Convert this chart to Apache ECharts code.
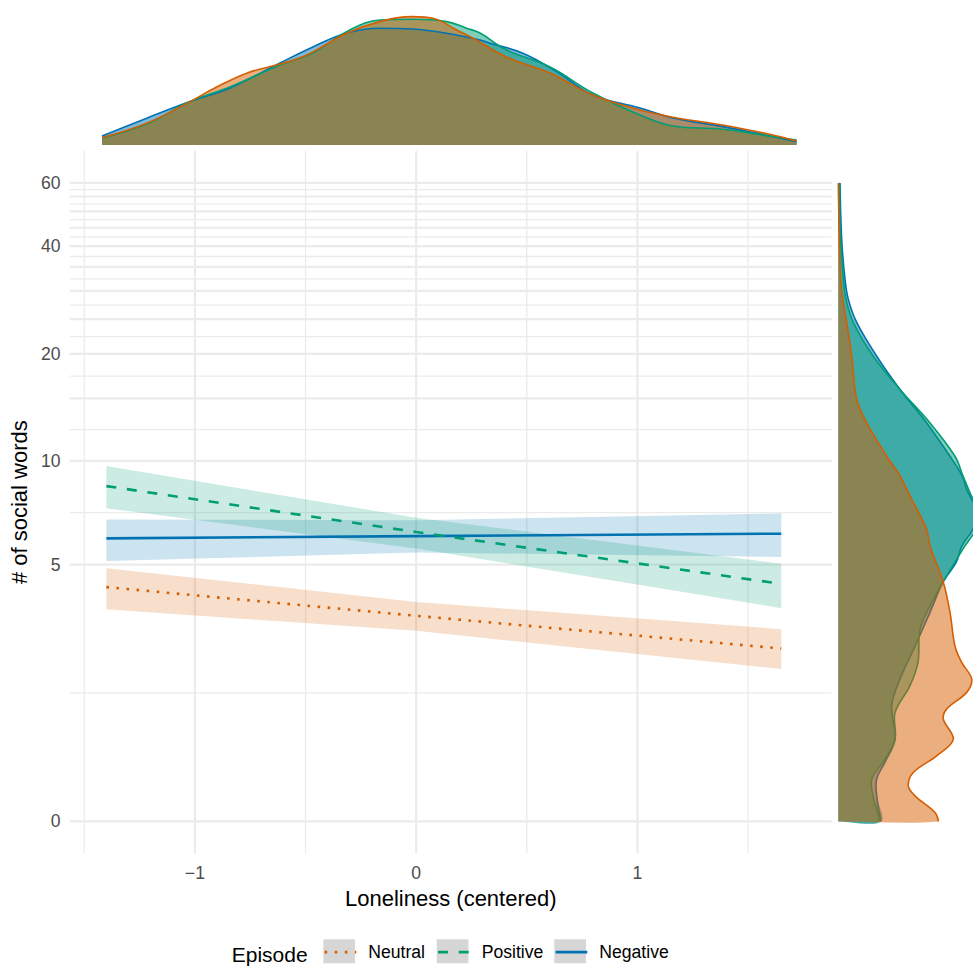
<!DOCTYPE html>
<html><head><meta charset="utf-8">
<script src="https://cdn.jsdelivr.net/npm/echarts@6/dist/echarts.min.js"></script>
<style>html,body{margin:0;padding:0;background:#fff}#c{width:973px;height:966px}</style>
</head><body><div id="c"></div>
<script>
// ---------- data (original units) ----------
const xFit = [-1.4, 0, 1.65];
const negFit = [5.98, 6.07, 6.17];
const negLo  = [5.12, 5.43, 5.27];
const negHi  = [6.79, 6.75, 7.07];
const posFit = [8.47, 6.24, 4.37];
const posLo  = [7.31, 5.58, 3.67];
const posHi  = [9.66, 6.87, 5.03];
const neuFit = [4.27, 3.47, 2.70];
const neuLo  = [3.64, 3.10, 2.28];
const neuHi  = [4.87, 3.84, 3.14];

// top marginal densities of loneliness
const topNegX = [-1.406,-1.205,-1.010,-0.830,-0.605,-0.457,-0.305,-0.155,-0.007,0.145,0.295,0.340,0.488,0.640,0.803,1.015,1.163,1.388,1.613,1.720];
const topNegD = [0.045,0.134,0.217,0.285,0.41,0.49,0.56,0.584,0.58,0.559,0.525,0.509,0.459,0.367,0.25,0.185,0.135,0.092,0.042,0.017];
const topPosX = [-1.406,-1.205,-1.010,-0.830,-0.605,-0.457,-0.305,-0.155,-0.007,0.145,0.235,0.295,0.415,0.610,0.803,1.015,1.163,1.388,1.613,1.720];
const topPosD = [0.035,0.105,0.217,0.29,0.40,0.46,0.567,0.625,0.629,0.617,0.584,0.56,0.475,0.39,0.26,0.15,0.095,0.079,0.042,0.025];
const topNeuX = [-1.406,-1.205,-1.010,-0.907,-0.755,-0.605,-0.485,-0.305,-0.155,-0.007,0.083,0.190,0.263,0.415,0.610,0.803,1.015,1.163,1.388,1.613,1.720];
const topNeuD = [0.037,0.109,0.217,0.28,0.359,0.405,0.45,0.559,0.617,0.642,0.634,0.575,0.534,0.44,0.36,0.25,0.175,0.139,0.10,0.05,0.02];

// right marginal densities of # social words
const rightNegY = [60,41.7,32.3,28.4,24.5,19.7,15.9,12.8,10.3,9.05,8.29,7.76,7.12,6.35,5.68,5.08,4.42,3.56,2.75,2.09,1.62,1.10,0.778,0.549,0.329,0];
const rightNegD = [0.0085,0.017,0.0335,0.05,0.092,0.192,0.3085,0.442,0.5585,0.62,0.642,0.667,0.70,0.673,0.618,0.59,0.5235,0.4585,0.3835,0.3085,0.267,0.2835,0.2335,0.192,0.192,0.2135];
const rightPosY = [60,41.7,32.3,28.4,24.5,19.7,15.9,12.8,10.3,9.05,7.76,7.12,6.35,5.68,4.42,3.73,3.14,2.41,1.97,1.51,1.10,0.778,0.549,0.329,0];
const rightPosD = [0.006,0.011,0.026,0.0385,0.075,0.175,0.3085,0.4585,0.5835,0.6235,0.6735,0.71,0.689,0.633,0.5235,0.4585,0.4085,0.3985,0.3585,0.2835,0.2835,0.2235,0.167,0.1735,0.2085];
const rightNeuY = [60,41.7,32.3,28.4,24.5,19.7,17.7,14.9,12.8,10.3,9.05,7.76,6.35,5.68,4.42,3.56,2.75,2.41,2.09,1.85,1.57,1.41,1.10,0.866,0.638,0.46,0.329,0.115,0];
const rightNeuD = [0,0.005,0.012,0.022,0.042,0.067,0.075,0.092,0.142,0.242,0.3085,0.367,0.442,0.4585,0.525,0.5585,0.5835,0.617,0.667,0.642,0.542,0.525,0.575,0.492,0.375,0.35,0.3835,0.4835,0.50];

// axis breaks
const yTickLabels = [0, 5, 10, 20, 40, 60];
const yMajorBreaks = [0, 5, 10, 15, 20, 25, 30, 35, 40, 45, 50, 55, 60];
const xTickLabels = [-1, 0, 1];
const xMinorBreaks = [-1.5, -0.5, 0.5, 1.5];
const episodes = ['Neutral', 'Positive', 'Negative'];

// ---------- config ----------
const T = v => Math.asinh(v / 2);            // pseudo-log transform
const X_MIN = -1.565, X_MAX = 1.878, Y_MIN = -0.20473, Y_MAX = 4.29935;
const FONT = '"Liberation Sans", Arial, Helvetica, sans-serif';
const COL = {Neutral: '213,94,0', Positive: '0,158,115', Negative: '0,114,178'};

const chart = echarts.init(document.getElementById('c'), null, {renderer: 'svg'});

function gridLines() {
  return {
    type: 'custom', xAxisIndex: 0, yAxisIndex: 0, data: [[0, 0]], silent: true, z: 0, clip: false,
    renderItem: (p, api) => {
      const ch = [];
      const add = (a, b, w) => ch.push({type: 'line', shape: {x1: a[0], y1: a[1], x2: b[0], y2: b[1]},
        style: {stroke: '#EBEBEB', lineWidth: w}});
      yMajorBreaks.forEach(v => add(api.coord([X_MIN, T(v)]), api.coord([X_MAX, T(v)]), 2.2));
      for (let i = 0; i < yMajorBreaks.length - 1; i++) {
        const m = (T(yMajorBreaks[i]) + T(yMajorBreaks[i + 1])) / 2;
        add(api.coord([X_MIN, m]), api.coord([X_MAX, m]), 1.3);
      }
      xTickLabels.forEach(v => add(api.coord([v, Y_MIN]), api.coord([v, Y_MAX]), 2.2));
      xMinorBreaks.forEach(v => add(api.coord([v, Y_MIN]), api.coord([v, Y_MAX]), 1.3));
      return {type: 'group', children: ch};
    }
  };
}

function ribbon(lo, hi, rgb) {
  return {
    type: 'custom', xAxisIndex: 0, yAxisIndex: 0, data: [[0, 0]], silent: true, z: 1, clip: false,
    renderItem: (p, api) => {
      const pts = [];
      xFit.forEach((x, i) => pts.push(api.coord([x, T(hi[i])])));
      for (let i = xFit.length - 1; i >= 0; i--) pts.push(api.coord([xFit[i], T(lo[i])]));
      return {type: 'polygon', shape: {points: pts}, style: {fill: `rgba(${rgb},0.2)`}};
    }
  };
}

const dashOf = {Neutral: [2.6, 7.5], Positive: [10, 10.7], Negative: 'solid'};
function fitLine(name, fit) {
  const c = `rgb(${COL[name]})`;
  return {
    type: 'line', name, xAxisIndex: 0, yAxisIndex: 0, symbol: 'none', silent: true, z: 3,
    color: c, itemStyle: {color: c},
    data: xFit.map((x, i) => [x, T(fit[i])]),
    lineStyle: {color: c, width: 2.6, type: dashOf[name], cap: 'butt'}
  };
}

function topDensity(name, xs, ds) {
  return {
    type: 'line', name: name + ' density', xAxisIndex: 1, yAxisIndex: 1, symbol: 'none', silent: true,
    smooth: 0.4, data: xs.map((x, i) => [x, ds[i]]),
    lineStyle: {color: `rgb(${COL[name]})`, width: 1.6},
    areaStyle: {color: `rgba(${COL[name]},0.5)`, opacity: 1}
  };
}

function rightDensity(name, ys, ds) {
  return {
    type: 'custom', xAxisIndex: 2, yAxisIndex: 2, data: [[0, 0]], silent: true, clip: false,
    renderItem: (p, api) => {
      const curve = ys.map((y, i) => api.coord([ds[i], T(y)]));
      const b0 = api.coord([0, T(ys[0])]), b1 = api.coord([0, T(ys[ys.length - 1])]);
      const poly = [b0, b0.slice()].concat(curve, [b1, b1.slice()]);
      return {type: 'group', children: [
        {type: 'polygon', shape: {points: poly, smooth: 0.35}, style: {fill: `rgba(${COL[name]},0.5)`}},
        {type: 'polyline', shape: {points: curve, smooth: 0.35},
          style: {stroke: `rgb(${COL[name]})`, lineWidth: 1.6, fill: null}}
      ]};
    }
  };
}

const legendLeft = {Neutral: 323.3, Positive: 436.7, Negative: 554.3};
const keyTop = 939.3, keyH = 24, keyW = 31.7;

const option = {
  animation: false,
  backgroundColor: '#fff',
  textStyle: {fontFamily: FONT},
  title: {text: 'Episode', left: 231.7, top: 944, padding: 0,
    textStyle: {fontSize: 21, fontWeight: 'normal', color: '#000', fontFamily: FONT}},
  grid: [
    {left: 66.7, top: 151, width: 765, height: 702.3},
    {left: 66.7, top: 5, width: 765, height: 140},
    {left: 838.3, top: 151, width: 134.7, height: 702.3}
  ],
  xAxis: [
    {gridIndex: 0, type: 'value', min: X_MIN, max: X_MAX,
      axisLine: {show: false}, axisTick: {show: false}, splitLine: {show: false},
      axisLabel: {customValues: xTickLabels, formatter: v => v < 0 ? '\u2212' + Math.abs(v) : String(v),
        color: '#4D4D4D', fontSize: 17.6, fontFamily: FONT, margin: 11},
      name: 'Loneliness (centered)', nameLocation: 'middle', nameGap: 33,
      nameTextStyle: {fontSize: 22, color: '#000', fontFamily: FONT}},
    {gridIndex: 1, type: 'value', min: X_MIN, max: X_MAX, show: false},
    {gridIndex: 2, type: 'value', min: 0, max: 0.6735, show: false}
  ],
  yAxis: [
    {gridIndex: 0, type: 'value', min: Y_MIN, max: Y_MAX,
      axisLine: {show: false}, axisTick: {show: false}, splitLine: {show: false},
      axisLabel: {customValues: yTickLabels.map(T), formatter: v => String(Math.round(2 * Math.sinh(v))),
        color: '#4D4D4D', fontSize: 17.6, fontFamily: FONT, margin: 9.4},
      name: '# of social words', nameLocation: 'middle', nameGap: 26, nameRotate: 90,
      nameTextStyle: {fontSize: 22, color: '#000', fontFamily: FONT}},
    {gridIndex: 1, type: 'value', min: 0, max: 0.7, show: false},
    {gridIndex: 2, type: 'value', min: Y_MIN, max: Y_MAX, show: false}
  ],
  legend: episodes.map(name => ({
    data: [name], left: legendLeft[name], top: 942.5, padding: 0, z: 5,
    itemWidth: keyW, itemHeight: keyH, selectedMode: false,
    itemStyle: {color: 'rgba(0,0,0,0)', borderWidth: 0, opacity: 0},
    lineStyle: {width: 2.6, color: `rgb(${COL[name]})`, type: dashOf[name]},
    textStyle: {fontSize: 17.6, color: '#000', fontFamily: FONT, padding: [0, 0, 0, 7]}
  })),
  graphic: episodes.map(name => ({
    type: 'rect', z: 1, silent: true,
    shape: {x: legendLeft[name], y: keyTop, width: keyW, height: keyH},
    style: {fill: '#D6D6D6'}
  })),
  series: [
    gridLines(),
    ribbon(negLo, negHi, COL.Negative),
    ribbon(posLo, posHi, COL.Positive),
    ribbon(neuLo, neuHi, COL.Neutral),
    fitLine('Negative', negFit),
    fitLine('Positive', posFit),
    fitLine('Neutral', neuFit),
    topDensity('Negative', topNegX, topNegD),
    topDensity('Positive', topPosX, topPosD),
    topDensity('Neutral', topNeuX, topNeuD),
    rightDensity('Negative', rightNegY, rightNegD),
    rightDensity('Positive', rightPosY, rightPosD),
    rightDensity('Neutral', rightNeuY, rightNeuD)
  ]
};
chart.setOption(option);
</script></body></html>
